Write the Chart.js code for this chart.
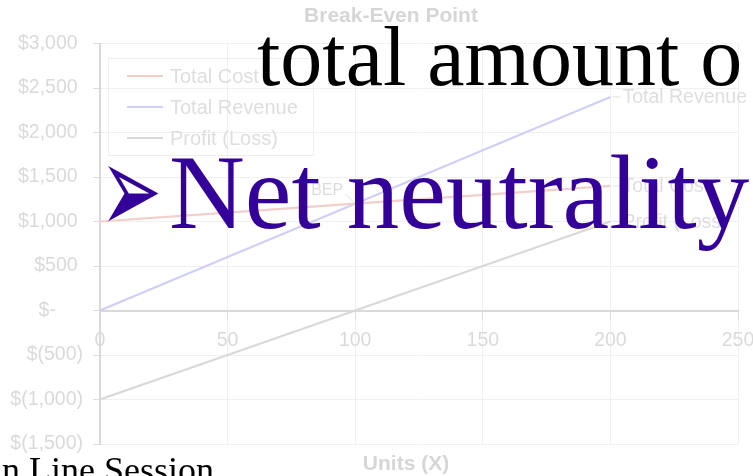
<!DOCTYPE html>
<html>
<head>
<meta charset="utf-8">
<title>Break-Even Point</title>
<script src="https://cdn.jsdelivr.net/npm/chart.js@4.4.0/dist/chart.umd.min.js"></script>
<style>
  html, body { margin: 0; padding: 0; background: #fff; }
  #wrap { position: relative; width: 753px; height: 476px; overflow: hidden; }
  #chart { position: absolute; left: 0; top: 0; }
  .slide { position: absolute; white-space: nowrap; line-height: 1; font-family: "Liberation Serif", "Times New Roman", serif; }
  #line1 { left: 257px; top: 15px; font-size: 84px; color: #000; }
  #bullet { left: 100px; top: 126px; font-size: 74px; color: #330099; font-family: "DejaVu Sans", sans-serif;
            transform-origin: 0 0; transform: scaleY(1.7); }
  #line2 { left: 169px; top: 140px; font-size: 105px; color: #330099; }
  #line3 { left: 2px; top: 452px; font-size: 36px; color: #000; }
</style>
</head>
<body>
<div id="wrap">
  <canvas id="chart" width="753" height="476"></canvas>
  <div class="slide" id="line1">total amount o</div>
  <div class="slide" id="bullet">&#x27A2;</div>
  <div class="slide" id="line2">Net neutrality</div>
  <div class="slide" id="line3">n Line Session</div>
</div>
<script>
// units sold and the three break-even series
const units = [0, 50, 100, 150, 200];
const totalCost = [1000, 1100, 1200, 1300, 1400];
const totalRevenue = [0, 600, 1200, 1800, 2400];
const profitLoss = [-1000, -500, 0, 500, 1000];

const unitTicks = [0, 50, 100, 150, 200, 250];
const dollarTicks = [-1500, -1000, -500, 0, 500, 1000, 1500, 2000, 2500, 3000];

const breakEvenUnits = 100;
const breakEvenAmount = 1200;

const seriesNames = ["Total Cost", "Total Revenue", "Profit (Loss)"];
const seriesColors = ["#f2cfca", "#cfcff7", "#d9d9d9"];

const faint = "#dadada";
const labelFont = "19.5px 'Liberation Sans', Arial, sans-serif";

// accounting style: $3,000  $(500)  $-
function dollars(v) {
  if (v === 0) return "$-     ";
  const s = Math.abs(v).toLocaleString("en-US");
  return v < 0 ? "$(" + s + ")" : "$" + s + " ";
}

function toPoints(values) {
  return units.map((u, i) => ({ x: u, y: values[i] }));
}

// title, axis caption, boxed legend, end-of-line names and the BEP tag
const decorations = {
  id: "decorations",
  afterDraw(chart) {
    const ctx = chart.ctx;
    const xs = chart.scales.x;
    const ys = chart.scales.y;
    ctx.save();

    ctx.fillStyle = "#d6d6d6";
    ctx.font = "bold 21px 'Liberation Sans', Arial, sans-serif";
    ctx.textAlign = "center";
    ctx.textBaseline = "middle";
    ctx.fillText("Break-Even Point", 391, 16);
    ctx.fillText("Units (X)", 406, 464);

    // legend box
    ctx.strokeStyle = "#eeeeee";
    ctx.lineWidth = 1;
    ctx.strokeRect(108.5, 58.5, 205, 97);
    ctx.font = "20px 'Liberation Sans', Arial, sans-serif";
    ctx.textAlign = "left";
    const rows = [76, 107, 138];
    chart.data.datasets.forEach((ds, i) => {
      ctx.strokeStyle = ds.borderColor;
      ctx.lineWidth = 2;
      ctx.beginPath();
      ctx.moveTo(127, rows[i]);
      ctx.lineTo(163, rows[i]);
      ctx.stroke();
      ctx.fillStyle = "#dedede";
      ctx.fillText(ds.label, 170, rows[i] + 1);
    });

    // series names at the last point of each line
    ctx.font = labelFont;
    chart.data.datasets.forEach((ds) => {
      const last = ds.data[ds.data.length - 1];
      const px = xs.getPixelForValue(last.x);
      const py = ys.getPixelForValue(last.y);
      ctx.strokeStyle = "#e6e6e6";
      ctx.lineWidth = 1;
      ctx.beginPath();
      ctx.moveTo(px + 2, py);
      ctx.lineTo(px + 10, py);
      ctx.stroke();
      ctx.fillStyle = "#dedede";
      ctx.fillText(ds.label, px + 12, py + 1);
    });

    // break-even tag
    const bx = xs.getPixelForValue(breakEvenUnits);
    const by = ys.getPixelForValue(breakEvenAmount);
    ctx.strokeStyle = "#e2e2e2";
    ctx.beginPath();
    ctx.moveTo(bx - 10, by - 10);
    ctx.lineTo(bx, by);
    ctx.stroke();
    ctx.font = "16px 'Liberation Sans', Arial, sans-serif";
    ctx.textAlign = "right";
    ctx.fillStyle = "#dcdcdc";
    ctx.fillText("BEP", bx - 12, by - 13);

    ctx.restore();
  }
};

new Chart(document.getElementById("chart"), {
  type: "line",
  data: {
    datasets: [
      { label: seriesNames[0], data: toPoints(totalCost), borderColor: seriesColors[0] },
      { label: seriesNames[1], data: toPoints(totalRevenue), borderColor: seriesColors[1] },
      { label: seriesNames[2], data: toPoints(profitLoss), borderColor: seriesColors[2] },
    ],
  },
  options: {
    responsive: false,
    animation: false,
    events: [],
    layout: { padding: { top: 43.5, right: 15, bottom: 32, left: 0 } },
    elements: {
      line: { borderWidth: 2.2, tension: 0, fill: false },
      point: { radius: 0 },
    },
    plugins: {
      legend: { display: false },
      title: { display: false },
      tooltip: { enabled: false },
    },
    scales: {
      x: {
        type: "linear",
        position: { y: 0 },
        min: 0,
        max: 250,
        afterBuildTicks: (s) => { s.ticks = unitTicks.map((v) => ({ value: v })); },
        afterFit: (s) => { s.paddingLeft = 0; s.paddingRight = 0; },
        grid: { color: "#f0f0f0", tickColor: "#dddddd", tickLength: 8 },
        border: { color: "#d9d9d9", width: 2 },
        ticks: {
          color: faint,
          font: { family: "'Liberation Sans', Arial, sans-serif", size: 19.5 },
          padding: 10,
          maxRotation: 0,
          autoSkip: false,
        },
      },
      y: {
        min: -1500,
        max: 3000,
        afterBuildTicks: (s) => { s.ticks = dollarTicks.map((v) => ({ value: v })); },
        afterFit: (s) => { s.width = 100; },
        grid: { color: "#f0f0f0", tickColor: "#dddddd", tickLength: 7 },
        border: { color: "#d9d9d9", width: 2 },
        ticks: {
          color: faint,
          font: { family: "'Liberation Sans', Arial, sans-serif", size: 19.5 },
          padding: 10,
          callback: (v) => dollars(v),
        },
      },
    },
  },
  plugins: [decorations],
});
</script>
</body>
</html>
